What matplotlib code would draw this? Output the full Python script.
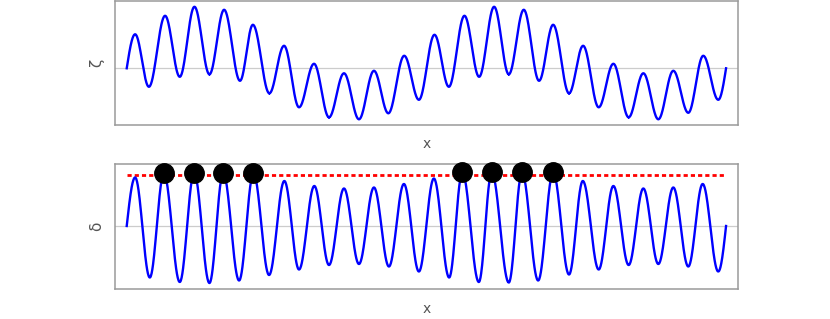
import numpy as np
import matplotlib
matplotlib.use("Agg")
import matplotlib.pyplot as plt

# extrema positions (in wave periods)
x_zeta = [0.0, 0.28, 0.74, 1.28, 1.77, 2.26, 2.76, 3.25, 3.78, 4.21, 4.76,
          5.25, 5.75, 6.25, 6.75, 7.25, 7.75, 8.25, 8.73, 9.26, 9.75,
          10.27, 10.75, 11.27, 11.76, 12.26, 12.75, 13.25, 13.76, 14.23, 14.76,
          15.23, 15.75, 16.24, 16.75, 17.24, 17.74, 18.24, 18.74, 19.24, 19.74, 20.0]

# surface elevation zeta at those points (start/end are zero crossings)
zeta_ext = [0.0, 0.68, -0.37, 1.05, -0.17, 1.23, -0.12, 1.17, -0.25, 0.87, -0.50,
            0.45, -0.78, 0.09, -0.98, -0.10, -1.02, -0.05, -0.90, 0.25, -0.63,
            0.67, -0.37, 1.05, -0.17, 1.23, -0.12, 1.17, -0.25, 0.87, -0.50,
            0.45, -0.78, 0.09, -0.98, -0.10, -1.02, -0.05, -0.89, 0.25, -0.63, 0.0]

# extrema positions
x_delta = [0.0, 0.28, 0.77, 1.24, 1.77, 2.25, 2.76, 3.22, 3.75, 4.23, 4.75,
           5.26, 5.75, 6.26, 6.75, 7.25, 7.75, 8.25, 8.75, 9.25, 9.75,
           10.25, 10.76, 11.20, 11.75, 12.18, 12.75, 13.19, 13.73, 14.23, 14.76,
           15.22, 15.75, 16.24, 16.75, 17.24, 17.74, 18.24, 18.74, 19.22, 19.74, 20.0]

# response delta at those points
delta_ext = [0.0, 0.97, -1.03, 1.05, -1.12, 1.06, -1.14, 1.06, -1.09, 1.05, -0.98,
             0.90, -0.87, 0.80, -0.78, 0.75, -0.76, 0.77, -0.81, 0.84, -0.91,
             0.95, -1.03, 1.07, -1.12, 1.07, -1.13, 1.07, -1.09, 1.07, -0.97,
             0.90, -0.87, 0.80, -0.78, 0.75, -0.76, 0.77, -0.81, 0.84, -0.91, 0.0]

threshold = 1.02


def wave(xs, ys, n=40):
    # smooth sine-like pieces between the read extrema
    xx, yy = [], []
    last = len(xs) - 2
    for i in range(len(xs) - 1):
        t = np.linspace(0, 1, n)
        if i == 0:
            s = np.sin(np.pi / 2 * t)
        elif i == last:
            s = 1 - np.cos(np.pi / 2 * t)
        else:
            s = (1 - np.cos(np.pi * t)) / 2
        xx.append(xs[i] + (xs[i + 1] - xs[i]) * t)
        yy.append(ys[i] + (ys[i + 1] - ys[i]) * s)
    return np.concatenate(xx), np.concatenate(yy)


def style(ax, label):
    ax.set_xticks([])
    ax.set_yticks([])
    for sp in ax.spines.values():
        sp.set_color("#9a9a9a")
        sp.set_linewidth(1.1)
    ax.axhline(0, color="#cccccc", lw=0.9, zorder=1)
    ax.set_xlim(-0.39, 20.40)
    ax.set_xlabel("x", color="#555555", fontsize=10, labelpad=9)
    ax.set_ylabel(label, color="#555555", fontsize=11, labelpad=8)


fig = plt.figure(figsize=(8.3, 3.19), dpi=100)
ax1 = fig.add_axes([0.1386, 0.6082, 0.7506, 0.3887])
ax2 = fig.add_axes([0.1386, 0.094, 0.7506, 0.391])

zx, zy = wave(x_zeta, zeta_ext)
ax1.plot(zx, zy, color="blue", lw=1.7, zorder=3)
style(ax1, "ζ")
ax1.set_ylim(-1.134, 1.346)

dx, dy = wave(x_delta, delta_ext)
ax2.plot(dx, dy, color="blue", lw=1.7, zorder=3)
ax2.plot([x_delta[0], x_delta[-1]], [threshold, threshold], color="red", lw=2,
         linestyle=(0, (1.5, 1.1)), zorder=2)
over = [(x, d) for x, d in zip(x_delta, delta_ext) if d > threshold]
ax2.plot([p[0] for p in over], [p[1] for p in over], "o", color="black",
         ms=14, zorder=4, clip_on=False)
style(ax2, "δ")
ax2.set_ylim(-1.26, 1.234)

fig.savefig("out.png", dpi=100)
